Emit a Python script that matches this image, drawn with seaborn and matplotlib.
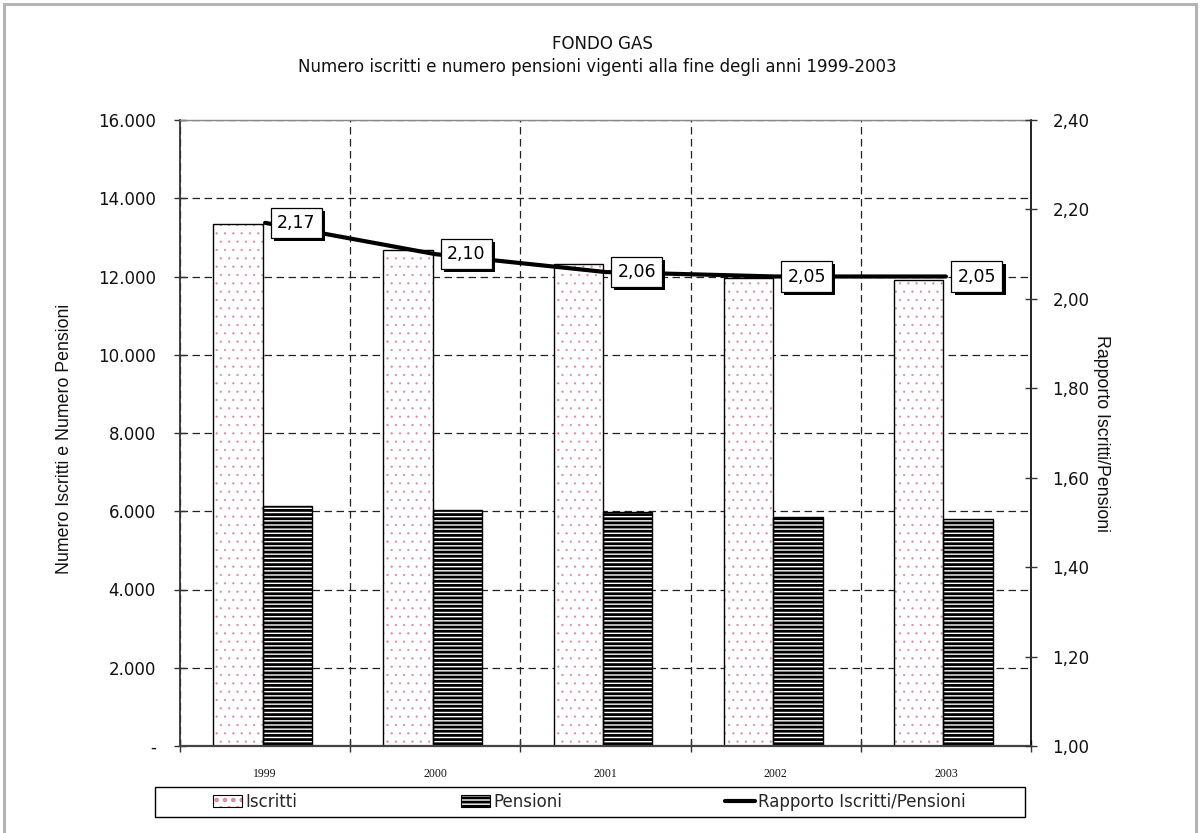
import numpy as np
import pandas as pd
import matplotlib
matplotlib.use('Agg')
import matplotlib.pyplot as plt
import seaborn as sns
from matplotlib.patches import Rectangle, Patch
from matplotlib.lines import Line2D
from matplotlib.ticker import FixedLocator, FuncFormatter, NullFormatter
from matplotlib.legend_handler import HandlerTuple
import matplotlib.patheffects as pe

# ---------------- data ----------------
years = ['1999', '2000', '2001', '2002', '2003']
iscritti = [13350, 12690, 12310, 11960, 11910]
pensioni = [6140, 6030, 5970, 5850, 5790]
rapporto = [2.17, 2.10, 2.06, 2.05, 2.05]
rapporto_labels = ['2,17', '2,10', '2,06', '2,05', '2,05']
series_names = ['Iscritti', 'Pensioni']
line_name = 'Rapporto Iscritti/Pensioni'
title_1 = 'FONDO GAS'
title_2 = 'Numero iscritti e numero pensioni vigenti alla fine degli anni 1999-2003'
y_left_label = 'Numero Iscritti e Numero Pensioni'
y_right_label = 'Rapporto Iscritti/Pensioni'
left_ticks = [0, 2000, 4000, 6000, 8000, 10000, 12000, 14000, 16000]
right_ticks = [1.0, 1.2, 1.4, 1.6, 1.8, 2.0, 2.2, 2.4]

sns.set_theme(style='white')
plt.rcParams['font.family'] = ['DejaVu Sans']
plt.rcParams['hatch.linewidth'] = 2.0

DOT_LW = 0.35
STRIPE_LW = 2.0

def set_hlw(p, lw):
    if hasattr(p, 'set_hatch_linewidth'):
        p.set_hatch_linewidth(lw)
    return p

W, H = 1200, 833
fig = plt.figure(figsize=(W / 100, H / 100), dpi=100)
fig.patch.set_facecolor('white')
ax = fig.add_axes([180 / W, 1 - 746 / H, (1031 - 180) / W, (746 - 120) / H])

df = pd.DataFrame({
    'Anno': years * 2,
    'Serie': [series_names[0]] * len(years) + [series_names[1]] * len(years),
    'Valore': iscritti + pensioni,
})

sns.barplot(data=df, x='Anno', y='Valore', hue='Serie', hue_order=series_names,
            palette=['white', 'white'], saturation=1, width=0.58, gap=0,
            linewidth=1, edgecolor='black', legend=False, ax=ax, zorder=2)

pink = '#e3829f'
iscr_bars = ax.containers[0]
pens_bars = ax.containers[1]
for p in iscr_bars:
    p.set_x(p.get_x() - 0.015)
    p.set_hatch('..')
    p.set_edgecolor(pink)
    p.set_linewidth(0)
    set_hlw(p, DOT_LW)
    ax.add_patch(Rectangle(p.get_xy(), p.get_width(), p.get_height(), fill=False,
                           edgecolor='black', linewidth=1, zorder=2.1))
for p in pens_bars:
    p.set_x(p.get_x() - 0.015)
    p.set_hatch('----')
    p.set_edgecolor('black')
    p.set_linewidth(1)
    set_hlw(p, STRIPE_LW)

ax.set_xlim(-0.5, len(years) - 0.5)
ax.set_ylim(0, 16000)
ax.yaxis.set_major_locator(FixedLocator(left_ticks))
ax.yaxis.set_major_formatter(FuncFormatter(
    lambda v, pos: '-' if v == 0 else f'{int(round(v)):,}'.replace(',', '.')))

# x: boundaries as major ticks (with grid), centers as minor ticks with labels
bounds = [i - 0.5 for i in range(len(years) + 1)]
ax.xaxis.set_major_locator(FixedLocator(bounds))
ax.xaxis.set_major_formatter(NullFormatter())
ax.xaxis.set_minor_locator(FixedLocator(list(range(len(years)))))
ax.xaxis.set_minor_formatter(FuncFormatter(lambda v, pos: years[int(round(v))]))
ax.tick_params(axis='x', which='major', direction='inout', length=9, width=1,
               color='#333333', bottom=True)
ax.tick_params(axis='x', which='minor', length=0, pad=16, bottom=True,
               labelsize=8.5, labelcolor='#111111')
for t in ax.get_xticklabels(minor=True):
    t.set_fontfamily('Liberation Serif')
ax.set_xlabel('')
ax.tick_params(axis='y', which='major', direction='inout', length=9, width=1,
               color='#333333', left=True, pad=13, labelsize=12, labelcolor='#111111')

ax.set_axisbelow(True)
dash = (0, (6, 3.6))
ax.yaxis.grid(True, linestyle=dash, color='#222222', linewidth=0.9)
ax.xaxis.grid(True, which='major', linestyle=dash, color='#222222', linewidth=0.9)
ax.set_ylabel(y_left_label, fontsize=12.8, color='#111111', family='Liberation Sans')
ax.yaxis.set_label_coords((73 - 180) / (1031 - 180), 0.49)

for side, col, lw in [('left', '#333333', 1.3), ('bottom', '#444444', 1.6),
                      ('top', '#888888', 1.0), ('right', 'black', 1.2)]:
    ax.spines[side].set_color(col)
    ax.spines[side].set_linewidth(lw)

# ---------------- ratio line ----------------
ax2 = ax.twinx()
xpos = np.arange(len(years))
sns.lineplot(x=xpos, y=rapporto, ax=ax2, color='black', linewidth=3, zorder=3)
ax2.set_ylim(1.0, 2.4)
ax2.yaxis.set_major_locator(FixedLocator(right_ticks))
ax2.yaxis.set_major_formatter(FuncFormatter(lambda v, pos: f'{v:.2f}'.replace('.', ',')))
ax2.tick_params(axis='y', direction='inout', length=9, width=1, color='#333333',
                right=True, pad=11, labelsize=12, labelcolor='#111111')
ax2.grid(False)
ax2.set_ylabel(y_right_label, rotation=-90, fontsize=12.8, color='#111111',
               family='Liberation Sans')
ax2.yaxis.set_label_coords((1110 - 180) / (1031 - 180), 0.5)
for s in ax2.spines.values():
    s.set_visible(False)

for xi, yi, lab in zip(xpos, rapporto, rapporto_labels):
    t = ax2.annotate(lab, xy=(xi, yi), xytext=(8.5, 0), textcoords='offset points',
                     ha='left', va='center', fontsize=12.5, color='black', zorder=5,
                     bbox=dict(boxstyle='square,pad=0.36', fc='white', ec='black', lw=0.9))
    t.get_bbox_patch().set_path_effects([
        pe.SimplePatchShadow(offset=(2.2, -2.2), shadow_rgbFace='black', alpha=1),
        pe.Normal()])

# ---------------- titles ----------------
fig.text(0.502, 1 - 44 / H, title_1, ha='center', va='center', fontsize=12,
         color='#111111')
fig.text(0.498, 1 - 67 / H, title_2, ha='center', va='center', fontsize=12,
         color='#111111')

# ---------------- legend ----------------
h_iscr = (set_hlw(Patch(facecolor='white', edgecolor=pink, hatch='..', linewidth=0), DOT_LW),
          Patch(fill=False, edgecolor='black', linewidth=0.8))
h_pens = set_hlw(Patch(facecolor='white', edgecolor='black', hatch='----', linewidth=0.8),
                 STRIPE_LW)
h_line = Line2D([], [], color='black', linewidth=3)
fig.legend([h_iscr, h_pens, h_line], series_names + [line_name],
           handler_map={tuple: HandlerTuple(ndivide=1, pad=0)},
           loc='center left', bbox_to_anchor=(213 / W, 1 - 802 / H), ncol=3,
           frameon=False, handlelength=1.75, handleheight=0.75,
           handletextpad=0.2, columnspacing=9.8, borderpad=0, borderaxespad=0,
           prop={'family': 'DejaVu Sans', 'size': 12})
fig.add_artist(Rectangle((155 / W, 1 - 817 / H), (1025 - 155) / W, 30 / H,
                         transform=fig.transFigure, fill=False, edgecolor='black',
                         linewidth=1))

# outer frame
fig.add_artist(Rectangle((4 / W, -0.02), (1196 - 4) / W, 1.02 - 4 / H,
                         transform=fig.transFigure, fill=False, edgecolor='#b4b4b4',
                         linewidth=2.2))

fig.savefig('out.png', dpi=100, facecolor='white')
